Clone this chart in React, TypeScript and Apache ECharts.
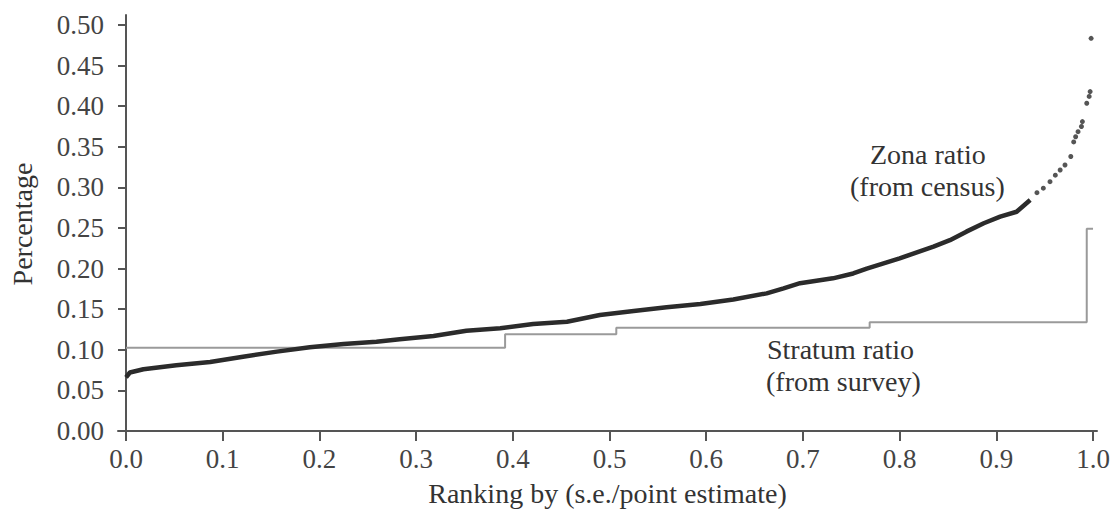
import React, { useEffect, useRef } from "react";
import * as echarts from "echarts";

// Zona ratio (from census): dense body of the curve
const zonaX = [0, 0.004, 0.018, 0.052, 0.087, 0.121, 0.156, 0.19, 0.225, 0.259, 0.283, 0.318, 0.352, 0.387, 0.421, 0.456, 0.49, 0.525, 0.559, 0.594, 0.628, 0.6625, 0.68, 0.697, 0.731, 0.752, 0.766, 0.8, 0.835, 0.852, 0.869, 0.887, 0.904, 0.921, 0.935];
const zonaY = [0.066, 0.072, 0.076, 0.081, 0.085, 0.0915, 0.0977, 0.103, 0.107, 0.11, 0.113, 0.117, 0.1235, 0.1264, 0.1318, 0.1346, 0.1429, 0.1478, 0.1523, 0.1564, 0.162, 0.1695, 0.1757, 0.182, 0.188, 0.194, 0.2, 0.2126, 0.227, 0.235, 0.2455, 0.2558, 0.264, 0.27, 0.2845];
// Zona ratio: sparse tail points
const tailX = [0.942, 0.9486, 0.9555, 0.961, 0.966, 0.971, 0.977, 0.98, 0.982, 0.9845, 0.988, 0.989, 0.9935, 0.996, 0.997, 0.998];
const tailY = [0.2935, 0.299, 0.307, 0.315, 0.3214, 0.3276, 0.338, 0.356, 0.3624, 0.3686, 0.375, 0.381, 0.4036, 0.412, 0.418, 0.4836];
// Stratum ratio (from survey): step breakpoints
const stratumX = [0, 0.392, 0.507, 0.769, 0.9935, 1.0];
const stratumY = [0.1026, 0.119, 0.127, 0.134, 0.249, 0.249];
// Tick labels
const yTicks = [0, 0.05, 0.1, 0.15, 0.2, 0.25, 0.3, 0.35, 0.4, 0.45, 0.5];
const xTicks = [0, 0.1, 0.2, 0.3, 0.4, 0.5, 0.6, 0.7, 0.8, 0.9, 1.0];

const FONT = "'Liberation Serif', 'DejaVu Serif', serif";

export default function App() {
  const ref = useRef<HTMLDivElement>(null);
  useEffect(() => {
    if (!ref.current) return;
    const chart = echarts.init(ref.current, undefined, { renderer: "svg" });
    const axisColor = "#555";
    chart.setOption({
      animation: false,
      backgroundColor: "#fff",
      grid: { left: 118, right: 18, top: 15, bottom: 87, containLabel: false },
      xAxis: {
        type: "value",
        min: -0.0083,
        max: 1.0041,
        name: "Ranking by (s.e./point estimate)",
        nameLocation: "middle",
        nameGap: 46,
        nameTextStyle: { fontFamily: FONT, fontSize: 28, color: "#333" },
        axisLine: { show: true, lineStyle: { color: axisColor, width: 2 } },
        axisTick: { show: true, length: 10, lineStyle: { color: axisColor, width: 2 }, customValues: xTicks },
        axisLabel: {
          customValues: xTicks,
          formatter: (v: number) => v.toFixed(1),
          fontFamily: FONT,
          fontSize: 27,
          color: "#444",
          margin: 12,
        },
        splitLine: { show: false },
      },
      yAxis: {
        type: "value",
        min: -0.0025,
        max: 0.5123,
        name: "Percentage",
        nameLocation: "middle",
        nameGap: 82,
        nameRotate: 90,
        nameTextStyle: { fontFamily: FONT, fontSize: 28, color: "#333" },
        axisLine: { show: true, lineStyle: { color: axisColor, width: 2 } },
        axisTick: { show: true, length: 8, lineStyle: { color: axisColor, width: 2 }, customValues: yTicks },
        axisLabel: {
          customValues: yTicks,
          formatter: (v: number) => v.toFixed(2),
          fontFamily: FONT,
          fontSize: 27,
          color: "#444",
          margin: 14,
        },
        splitLine: { show: false },
      },
      series: [
        {
          name: "Stratum ratio",
          type: "line",
          step: "end",
          showSymbol: false,
          symbol: "none",
          lineStyle: { color: "#9a9a9a", width: 2 },
          data: stratumX.map((x, i) => [x, stratumY[i]]),
          z: 1,
        },
        {
          name: "Zona ratio",
          type: "line",
          showSymbol: false,
          symbol: "none",
          smooth: false,
          lineStyle: { color: "#2b2b2b", width: 4.5 },
          data: zonaX.map((x, i) => [x, zonaY[i]]),
          z: 2,
        },
        {
          name: "Zona ratio tail",
          type: "scatter",
          symbol: "circle",
          symbolSize: 5,
          itemStyle: { color: "#2b2b2b" },
          data: tailX.map((x, i) => [x, tailY[i]]),
          z: 2,
        },
      ],
      graphic: [
        { type: "text", left: 870, top: 140, style: { text: "Zona ratio", font: `28px ${FONT}`, fill: "#333" } },
        { type: "text", left: 850, top: 172, style: { text: "(from census)", font: `28px ${FONT}`, fill: "#333" } },
        { type: "text", left: 767, top: 335, style: { text: "Stratum ratio", font: `28px ${FONT}`, fill: "#333" } },
        { type: "text", left: 766, top: 367, style: { text: "(from survey)", font: `28px ${FONT}`, fill: "#333" } },
      ],
    });
    return () => chart.dispose();
  }, []);
  return <div ref={ref} style={{ width: 1115, height: 520, position: "absolute", left: 0, top: 0 }} />;
}
